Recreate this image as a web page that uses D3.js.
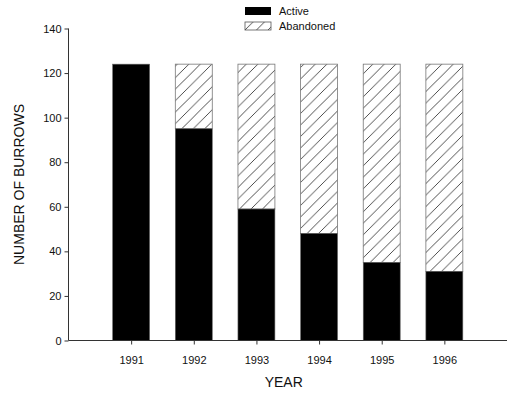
<!DOCTYPE html>
<html>
<head>
<meta charset="utf-8">
<script src="https://cdn.jsdelivr.net/npm/d3@7"></script>
<style>
  body { margin: 0; background: #fff; }
  text { font-family: "Liberation Sans", Arial, sans-serif; fill: #111; }
</style>
</head>
<body>
<div id="chart"></div>
<script>
var years = [1991, 1992, 1993, 1994, 1995, 1996]
var active = [124, 95, 59, 48, 35, 31]
var abandoned = [0, 29, 65, 76, 89, 93]
var yTicks = [0, 20, 40, 60, 80, 100, 120, 140]

var width = 509, height = 395

var svg = d3.select("#chart")
  .append("svg")
  .attr("width", width)
  .attr("height", height)

var x = d3.scaleLinear()
  .domain([1990, 1997])
  .range([68.5, 507])

var y = d3.scaleLinear()
  .domain([0, 140])
  .range([340.5, 28.5])

// hatch pattern for abandoned
var hs = 11.5
var defs = svg.append("defs")
defs.append("pattern")
  .attr("id", "hatch")
  .attr("patternUnits", "userSpaceOnUse")
  .attr("width", hs)
  .attr("height", hs)
  .append("path")
  .attr("d", "M-2,2 l4,-4 M0," + hs + " l" + hs + "," + (-hs) + " M" + (hs - 2) + "," + (hs + 2) + " l4,-4")
  .attr("stroke", "#222")
  .attr("stroke-width", 0.8)

var barW = (x(1991) - x(1990)) * 0.59

var data = years.map(function(yr, i) {
  return { year: yr, active: active[i], abandoned: abandoned[i] }
})

// abandoned on top of active
svg.selectAll(".aband")
  .data(data.filter(function(d) { return d.abandoned > 0 }))
  .enter().append("rect")
  .attr("class", "aband")
  .attr("x", function(d) { return x(d.year) - barW / 2 })
  .attr("y", function(d) { return y(d.active + d.abandoned) })
  .attr("width", barW)
  .attr("height", function(d) { return y(d.active) - y(d.active + d.abandoned) })
  .style("fill", "url(#hatch)")
  .style("stroke", "#777")
  .style("stroke-width", 0.8)

svg.selectAll(".act")
  .data(data)
  .enter().append("rect")
  .attr("class", "act")
  .attr("x", function(d) { return x(d.year) - barW / 2 })
  .attr("y", function(d) { return y(d.active) })
  .attr("width", barW)
  .attr("height", function(d) { return y(0) - y(d.active) })
  .style("fill", "#000")
  .style("stroke", "#666")
  .style("stroke-width", 0.6)

// axes
var yAxis = d3.axisLeft(y)
  .tickValues(yTicks)
  .tickSize(4)
  .tickPadding(3)

svg.append("g")
  .attr("transform", "translate(" + x(1990) + ",0)")
  .call(yAxis)
  .call(function(g) {
    g.select(".domain").attr("stroke", "#333").attr("d", "M0," + y(140) + "V" + y(0))
    g.selectAll("line").attr("stroke", "#333")
    g.selectAll("text").style("font-size", "11px")
  })

var xAxis = d3.axisBottom(x)
  .tickValues(years)
  .tickFormat(d3.format("d"))
  .tickSize(4)
  .tickPadding(12)

svg.append("g")
  .attr("transform", "translate(0," + y(0) + ")")
  .call(xAxis)
  .call(function(g) {
    g.select(".domain").attr("stroke", "#333").attr("d", "M" + x(1990) + ",0H" + x(1997))
    g.selectAll("line").attr("stroke", "#333")
    g.selectAll("text").style("font-size", "11px")
  })

// axis titles
svg.append("text")
  .attr("x", x(1993.5) - 4)
  .attr("y", 387)
  .attr("text-anchor", "middle")
  .style("font-size", "14px")
  .text("YEAR")

svg.append("text")
  .attr("transform", "translate(24," + y(70) + ") rotate(-90)")
  .attr("text-anchor", "middle")
  .style("font-size", "14px")
  .text("NUMBER OF BURROWS")

// legend
var legend = svg.append("g").attr("transform", "translate(245,7)")
legend.append("rect")
  .attr("width", 26).attr("height", 8)
  .style("fill", "#000")
legend.append("text")
  .attr("x", 34).attr("y", 8)
  .style("font-size", "11px")
  .text("Active")
legend.append("rect")
  .attr("y", 15)
  .attr("width", 26).attr("height", 8)
  .style("fill", "url(#hatch)")
  .style("stroke", "#555")
  .style("stroke-width", 0.8)
legend.append("text")
  .attr("x", 34).attr("y", 23)
  .style("font-size", "11px")
  .text("Abandoned")
</script>
</body>
</html>
